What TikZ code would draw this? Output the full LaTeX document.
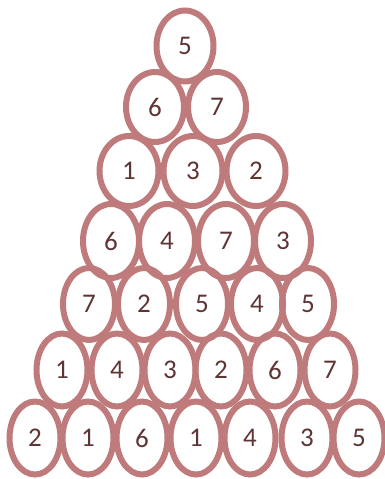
\documentclass[tikz,border=0pt]{standalone}
\usepackage{fontspec}
\setmainfont{Carlito}
\usetikzlibrary{shapes.geometric}
\definecolor{ring}{HTML}{BF7B7B}
\definecolor{digit}{HTML}{5E3434}
\tikzset{
  cell/.style={ellipse, draw=ring, line width=6pt, inner sep=0pt,
    text=digit, font=\fontsize{27}{27}\selectfont},
}
\begin{document}
\begin{tikzpicture}[x=1pt,y=-1pt]
\useasboundingbox (0,0) rectangle (384,479);
% row 1
\node[cell, minimum width=57pt, minimum height=71pt] (a1) at (185,46) {5};
% row 2
\foreach \x/\t [count=\i] in {155/6,217/7}
  \node[cell, minimum width=58pt, minimum height=70pt] (b\i) at (\x,107) {\t};
% row 3
\foreach \x/\t [count=\i] in {129/1,193/3,256/2}
  \node[cell, minimum width=59pt, minimum height=70pt] (c\i) at (\x,171) {\t};
% row 4
\foreach \x/\t [count=\i] in {111/6,167/4,226/7,283/3}
  \node[cell, minimum width=56pt, minimum height=74pt] (d\i) at (\x,241) {\t};
% row 5
\foreach \x/\t [count=\i] in {89/7,144/2,202/5,257/4,308/5}
  \node[cell, minimum width=52pt, minimum height=72pt] (e\i) at (\x,304) {\t};
% row 6
\foreach \x/\t [count=\i] in {62/1,117/4,170/3,221/2,275/6,330/7}
  \node[cell, minimum width=51pt, minimum height=73pt] (f\i) at (\x,370) {\t};
% row 7
\foreach \x/\t [count=\i] in {35/2,88/1,142/6,196/1,250/4,307/3,359/5}
  \node[cell, minimum width=51pt, minimum height=73pt] (g\i) at (\x,438) {\t};
\end{tikzpicture}
\end{document}
